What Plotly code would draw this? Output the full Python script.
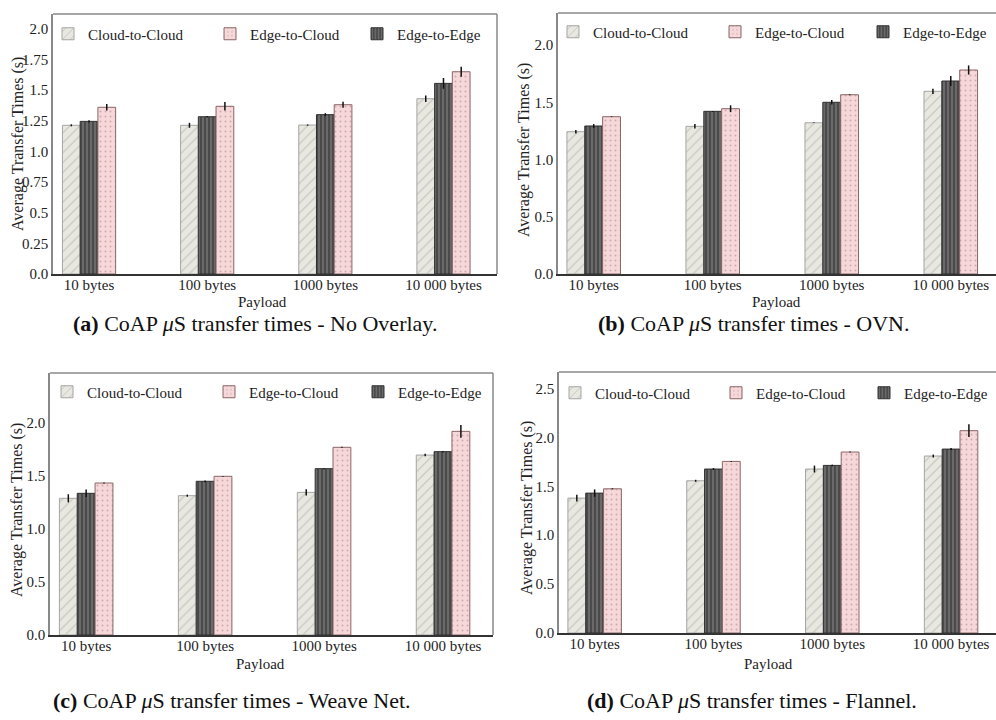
import plotly.graph_objects as go

W, H = 996, 720

payloads = ["10 bytes", "100 bytes", "1000 bytes", "10 000 bytes"]
series_names = ["Cloud-to-Cloud", "Edge-to-Edge", "Edge-to-Cloud"]

# (a) No Overlay
a_c2c = [1.213, 1.213, 1.215, 1.43]
a_e2e = [1.245, 1.283, 1.30, 1.555]
a_e2c = [1.36, 1.368, 1.381, 1.65]
a_c2c_err = [0.008, 0.02, 0.005, 0.026]
a_e2e_err = [0.01, 0.005, 0.012, 0.044]
a_e2c_err = [0.027, 0.035, 0.025, 0.041]

# (b) OVN
b_c2c = [1.243, 1.29, 1.321, 1.596]
b_e2e = [1.293, 1.421, 1.50, 1.686]
b_e2c = [1.374, 1.444, 1.566, 1.782]
b_c2c_err = [0.015, 0.02, 0.003, 0.023]
b_e2e_err = [0.017, 0.003, 0.02, 0.044]
b_e2c_err = [0.003, 0.03, 0.004, 0.04]

# (c) Weave Net
c_c2c = [1.286, 1.311, 1.342, 1.693]
c_e2e = [1.333, 1.446, 1.565, 1.725]
c_e2c = [1.43, 1.493, 1.766, 1.916]
c_c2c_err = [0.038, 0.01, 0.03, 0.012]
c_e2e_err = [0.035, 0.008, 0.005, 0.005]
c_e2c_err = [0.004, 0.004, 0.004, 0.06]

# (d) Flannel
d_c2c = [1.379, 1.556, 1.676, 1.809]
d_e2e = [1.43, 1.676, 1.713, 1.88]
d_e2c = [1.474, 1.754, 1.85, 2.068]
d_c2c_err = [0.034, 0.01, 0.035, 0.015]
d_e2e_err = [0.038, 0.01, 0.008, 0.01]
d_e2c_err = [0.005, 0.004, 0.005, 0.065]

a_ticks = [0, 0.25, 0.5, 0.75, 1.0, 1.25, 1.5, 1.75, 2.0]
a_ticktext = ["0.0", "0.25", "0.5", "0.75", "1.0", "1.25", "1.5", "1.75", "2.0"]
bc_ticks = [0, 0.5, 1.0, 1.5, 2.0]
bc_ticktext = ["0.0", "0.5", "1.0", "1.5", "2.0"]
d_ticks = [0, 0.5, 1.0, 1.5, 2.0, 2.5]
d_ticktext = ["0.0", "0.5", "1.0", "1.5", "2.0", "2.5"]

captions = [
    "<b>(a)</b> CoAP <i>μ</i>S transfer times - No Overlay.",
    "<b>(b)</b> CoAP <i>μ</i>S transfer times - OVN.",
    "<b>(c)</b> CoAP <i>μ</i>S transfer times - Weave Net.",
    "<b>(d)</b> CoAP <i>μ</i>S transfer times - Flannel.",
]

FONT = "Liberation Serif"

def px(x):
    return x / W

def py(y):
    return 1 - y / H

panels = [
    dict(vals=(a_c2c, a_e2e, a_e2c), errs=(a_c2c_err, a_e2e_err, a_e2c_err),
         dom_x=(53, 497), dom_y=(14, 274), xr=(-0.305, 3.453), yr=2.121,
         ticks=a_ticks, ticktext=a_ticktext, right=True,
         ytitle=(18, 144), xtitle=(262, 302), cap=(255, 324),
         leg=[(88, 34), (397, 34), (250, 34)]),
    dict(vals=(b_c2c, b_e2e, b_e2c), errs=(b_c2c_err, b_e2e_err, b_e2c_err),
         dom_x=(558, 996), dom_y=(13, 274), xr=(-0.30, 3.38), yr=2.28,
         ticks=bc_ticks, ticktext=bc_ticktext, right=False,
         ytitle=(524, 150), xtitle=(776, 302), cap=(754, 324),
         leg=[(593, 32), (903, 32), (755, 32)]),
    dict(vals=(c_c2c, c_e2e, c_e2c), errs=(c_c2c_err, c_e2e_err, c_e2c_err),
         dom_x=(50, 493), dom_y=(373, 635), xr=(-0.304, 3.42), yr=2.465,
         ticks=bc_ticks, ticktext=bc_ticktext, right=True,
         ytitle=(17, 510), xtitle=(260, 664), cap=(232, 700),
         leg=[(87, 392), (398, 392), (249, 392)]),
    dict(vals=(d_c2c, d_e2e, d_e2c), errs=(d_c2c_err, d_e2e_err, d_e2c_err),
         dom_x=(559, 996), dom_y=(372, 633), xr=(-0.30, 3.378), yr=2.668,
         ticks=d_ticks, ticktext=d_ticktext, right=False,
         ytitle=(527, 508), xtitle=(768, 664), cap=(752, 700),
         leg=[(595, 393), (904, 393), (756, 393)]),
]

styles = [
    dict(pattern=dict(shape="/", bgcolor="#e8e7e0", fgcolor="#9a9a96", size=7, solidity=0.15),
         line="#a5a5a5"),
    dict(pattern=dict(shape="|", bgcolor="#4a4a4a", fgcolor="#9a9a9a", size=4, solidity=0.4),
         line="#303030"),
    dict(pattern=dict(shape=".", bgcolor="#f6d8da", fgcolor="#a87a7e", size=5, solidity=0.12),
         line="#8a6666"),
]
offsets = [-0.225, -0.075, 0.075]
ranks = [1, 3, 2]

fig = go.Figure()
layout = dict(width=W, height=H, margin=dict(l=0, r=0, t=0, b=0),
              paper_bgcolor="white", plot_bgcolor="white", barmode="overlay",
              font=dict(family=FONT, size=15, color="#222"))
annotations = []
shapes = []
leg_idx = 0
for i, p in enumerate(panels):
    n = "" if i == 0 else str(i + 1)
    xa, ya = "x" + n, "y" + n
    for s in range(3):
        leg_idx += 1
        lname = "legend" if leg_idx == 1 else "legend" + str(leg_idx)
        fig.add_trace(go.Bar(
            x=payloads, y=p["vals"][s], name=series_names[s],
            xaxis=xa, yaxis=ya, width=0.15, offset=offsets[s],
            marker=dict(color=styles[s]["pattern"]["bgcolor"],
                        pattern=styles[s]["pattern"],
                        line=dict(color=styles[s]["line"], width=1)),
            error_y=dict(type="data", array=p["errs"][s], color="#111",
                         thickness=1.5, width=0),
            legend=lname, showlegend=True, legendrank=ranks[s],
        ))
        lx, lyc = p["leg"][s]
        layout[lname] = dict(x=px(lx - 40), y=py(lyc), xanchor="left", yanchor="middle",
                             orientation="h", bgcolor="rgba(0,0,0,0)",
                             font=dict(family=FONT, size=15, color="#222"))
    x0, x1 = p["dom_x"]
    yt, yb = p["dom_y"]
    layout["xaxis" + n] = dict(domain=[px(x0), px(x1)], anchor=ya, range=list(p["xr"]),
                               type="category", showline=True, linecolor="#333",
                               linewidth=1.5, showgrid=False, ticks="", zeroline=False,
                               automargin=False, ticklabelstandoff=-4,
                               tickfont=dict(family=FONT, size=15, color="#222"))
    layout["yaxis" + n] = dict(domain=[py(yb), py(yt)], anchor=xa, range=[0, p["yr"]],
                               showline=True, linecolor="#888", linewidth=1.5,
                               showgrid=False, ticks="", zeroline=False, automargin=False,
                               tickvals=p["ticks"], ticktext=p["ticktext"],
                               tickfont=dict(family=FONT, size=15, color="#222"))
    # frame lines
    shapes.append(dict(type="line", xref=xa + " domain", yref=ya + " domain",
                       x0=0, x1=1, y0=1, y1=1, line=dict(color="#888", width=1.5)))
    if p["right"]:
        shapes.append(dict(type="line", xref=xa + " domain", yref=ya + " domain",
                           x0=1, x1=1, y0=0, y1=1, line=dict(color="#888", width=1.5)))
    tx, ty = p["ytitle"]
    annotations.append(dict(text="Average Transfer Times (s)", x=px(tx), y=py(ty),
                            xref="paper", yref="paper", showarrow=False, textangle=-90,
                            xanchor="center", yanchor="middle",
                            font=dict(family=FONT, size=16, color="#222")))
    tx, ty = p["xtitle"]
    annotations.append(dict(text="Payload", x=px(tx), y=py(ty), xref="paper", yref="paper",
                            xanchor="center", yanchor="middle",
                            showarrow=False, font=dict(family=FONT, size=15, color="#222")))
    tx, ty = p["cap"]
    annotations.append(dict(text=captions[i], x=px(tx), y=py(ty), xref="paper", yref="paper",
                            xanchor="center", yanchor="middle",
                            showarrow=False, font=dict(family=FONT, size=22, color="#111")))

layout["annotations"] = annotations
layout["shapes"] = shapes
fig.update_layout(**layout)
fig.write_html("out.html", config={"displayModeBar": False},
               post_script="document.body.style.margin='0';document.body.style.overflow='hidden';")
